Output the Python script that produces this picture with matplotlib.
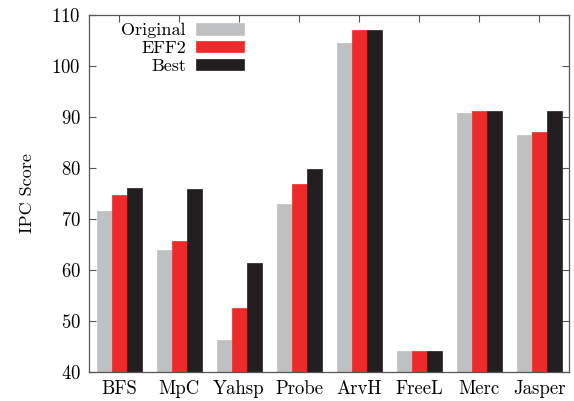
import numpy as np
import matplotlib.pyplot as plt

plt.rcParams['font.family'] = 'cmr10'
plt.rcParams['axes.formatter.use_mathtext'] = True
plt.rcParams['mathtext.fontset'] = 'cm'

categories = ['BFS', 'MpC', 'Yahsp', 'Probe', 'ArvH', 'FreeL', 'Merc', 'Jasper']
original = [71.5, 64.0, 46.2, 73.0, 104.6, 44.2, 90.7, 86.5]
eff2 = [74.7, 65.7, 52.6, 76.9, 107.0, 44.2, 91.1, 87.0]
best = [76.1, 75.8, 61.4, 79.8, 107.0, 44.2, 91.1, 91.1]

series = [('Original', original, '#bfc0c2'),
          ('EFF2', eff2, '#ec2a2a'),
          ('Best', best, '#231f20')]

fig = plt.figure(figsize=(5.74, 4.01), dpi=100)
ax = fig.add_axes([89/574, 1-372/401, 480/574, 357/401])
ax.set_axisbelow(True)

x = np.arange(len(categories))
w = 0.25
for i, (name, vals, col) in enumerate(series):
	ax.bar(x + (i - 1) * w, np.array(vals) - 40, w, bottom=40, color=col,
	       edgecolor=col, linewidth=0.5, label=name)

ax.set_xlim(-0.5, 7.5)
ax.set_ylim(40, 110)
ax.set_xticks(x)
ax.set_xticklabels(categories)
ax.set_yticks(np.arange(40, 111, 10))
ax.set_ylabel('IPC Score', fontsize=13, labelpad=12)
ax.tick_params(direction='in', top=True, right=True, length=5, width=0.8,
               color='#555555', labelsize=13.5, pad=6)
for s in ax.spines.values():
	s.set_color('#555555')
	s.set_linewidth(0.9)

ax.legend(loc='upper left', frameon=False, markerfirst=False, fontsize=13,
          handlelength=2.7, handleheight=0.6, labelspacing=0.13,
          bbox_to_anchor=(0.045, 1.008), borderaxespad=0.2, handletextpad=0.53)

fig.savefig('out.png', dpi=100)
